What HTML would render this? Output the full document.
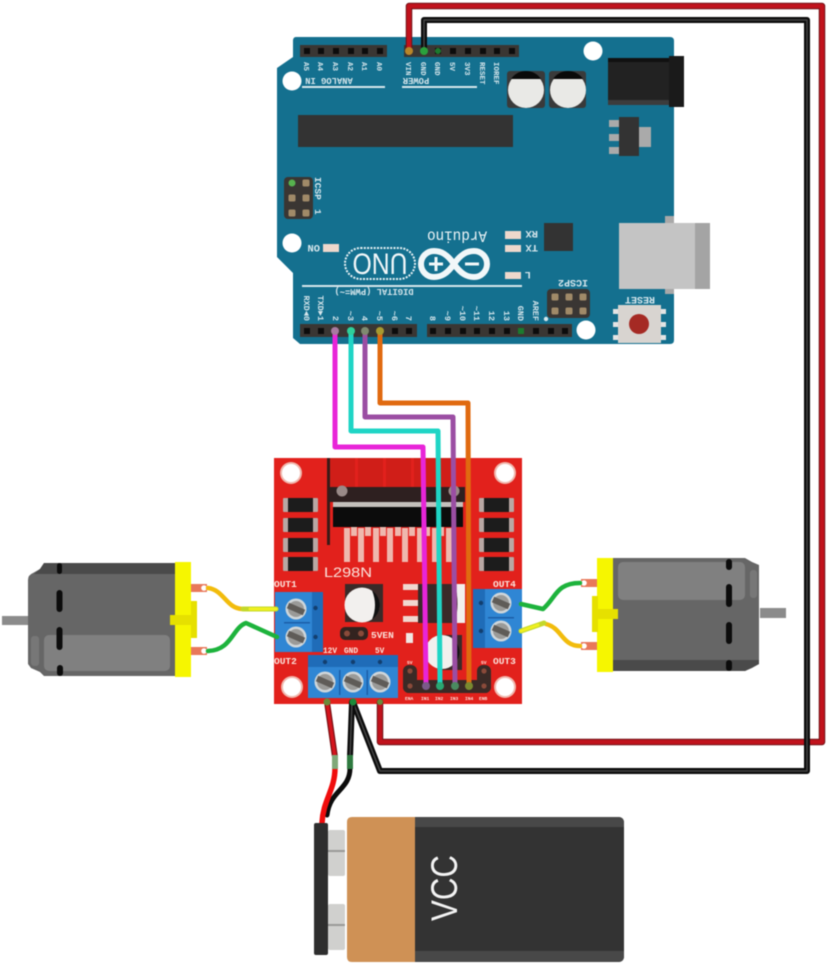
<!DOCTYPE html>
<html><head><meta charset="utf-8"><title>Arduino L298N motor wiring</title>
<style>
html,body{margin:0;padding:0;background:#fff}
svg{display:block;filter:blur(.45px)}
.m{font-family:"Liberation Mono",monospace;fill:#d6e6ec;font-weight:bold}
.w{font-family:"Liberation Mono",monospace;fill:#fbe3dc;font-weight:bold}
.n{fill:none;stroke-linejoin:round;stroke-linecap:round}
</style></head><body>
<svg width="827" height="965" viewBox="0 0 827 965" xmlns="http://www.w3.org/2000/svg">
<defs>
<g id="pin"><rect x="-3" y="-3" width="6" height="6" fill="#0c0c0c"/></g>
<g id="ipin"><rect x="-3.5" y="-3.5" width="7" height="7" rx="1.5" fill="#a08a68"/></g>
<g id="screw"><circle r="10.5" fill="#cfd6da"/><circle r="8" fill="#9a9a98"/><path d="M-8 -3.5L8 3.5" stroke="#5f5c58" stroke-width="6"/></g>
<g id="diode"><rect x="0" y="0" width="35" height="14" fill="#b8a8a4" rx="1"/><rect x="5" y="0" width="25" height="14" fill="#1c1c1c"/></g>
<g id="hole"><circle r="11" fill="#f0b8ae"/><circle r="9" fill="#fff"/></g>
<g id="jp"><circle r="5.5" fill="#3a2a26"/><circle r="2.6" fill="#8a4a3a"/></g>
</defs>
<rect width="827" height="965" fill="#fff"/>

<!-- Arduino board -->
<path d="M296 37H670Q674 37 674 41V340Q674 344 670 344H300L293 338V273L277 257V68L293 57V41Q293 37 296 37Z" fill="#14708f"/>
<circle cx="593" cy="51" r="9.5" fill="#fff"/><circle cx="292" cy="81" r="9.5" fill="#fff"/>
<circle cx="292" cy="243" r="9.5" fill="#fff"/><circle cx="586" cy="330" r="9.5" fill="#fff"/>

<!-- top headers -->
<rect x="300" y="45" width="87" height="12" fill="#3a3633"/>
<rect x="404" y="45" width="115" height="12" fill="#3a3633"/>
<use href="#pin" x="307" y="51"/><use href="#pin" x="321" y="51"/><use href="#pin" x="336" y="51"/><use href="#pin" x="351" y="51"/><use href="#pin" x="365" y="51"/><use href="#pin" x="380" y="51"/>
<use href="#pin" x="438" y="51"/><use href="#pin" x="453" y="51"/><use href="#pin" x="468" y="51"/><use href="#pin" x="483" y="51"/><use href="#pin" x="497" y="51"/><use href="#pin" x="512" y="51"/>
<circle cx="438" cy="51" r="3" fill="#1c7a2e"/>
<g class="m" font-size="7.5">
<text transform="translate(304,62) rotate(90)">A5</text><text transform="translate(318,62) rotate(90)">A4</text><text transform="translate(333,62) rotate(90)">A3</text><text transform="translate(348,62) rotate(90)">A2</text><text transform="translate(362,62) rotate(90)">A1</text><text transform="translate(377,62) rotate(90)">A0</text>
<text transform="translate(406,62) rotate(90)">VIN</text><text transform="translate(421,62) rotate(90)">GND</text><text transform="translate(435,62) rotate(90)">GND</text><text transform="translate(450,62) rotate(90)">5V</text><text transform="translate(465,62) rotate(90)">3V3</text><text transform="translate(480,62) rotate(90)">RESET</text><text transform="translate(494,62) rotate(90)">IOREF</text>
</g>
<text class="m" font-size="8.8" transform="translate(329,78) rotate(180)" text-anchor="middle">ANALOG IN</text>
<text class="m" font-size="8.8" transform="translate(416,78) rotate(180)" text-anchor="middle">POWER</text>
<rect x="302" y="86" width="83" height="2" fill="#d6e6ec"/><rect x="402" y="86" width="75" height="2" fill="#d6e6ec"/>

<!-- caps -->
<rect x="507" y="71" width="38" height="37" rx="3" fill="#3a3a3a"/><rect x="549" y="71" width="37" height="37" rx="3" fill="#3a3a3a"/>
<circle cx="526" cy="90" r="18" fill="#e9e9e6"/><circle cx="568" cy="90" r="18" fill="#e9e9e6"/>
<path d="M511 79A18 18 0 0 1 541 79Z" fill="#0a0a0a"/><path d="M553 79A18 18 0 0 1 583 79Z" fill="#0a0a0a"/>

<!-- chip -->
<rect x="298" y="115" width="215" height="32" fill="#333"/>

<!-- jack -->
<rect x="608" y="58" width="62" height="47" fill="#222"/><rect x="608" y="58" width="62" height="4" fill="#111"/><rect x="608" y="100" width="62" height="5" fill="#3c3c3c"/>
<rect x="669" y="56" width="15" height="51" fill="#1a1a1a"/>

<!-- regulator -->
<rect x="609" y="120" width="11" height="7" fill="#aaa"/><rect x="609" y="134" width="11" height="7" fill="#aaa"/><rect x="609" y="147" width="11" height="7" fill="#aaa"/>
<rect x="638" y="127" width="13" height="20" fill="#aaa"/><rect x="619" y="117" width="20" height="39" fill="#333"/>

<!-- ICSP -->
<rect x="284" y="177" width="29" height="42" rx="4" fill="#3a3633"/>
<use href="#ipin" x="306" y="183"/><use href="#ipin" x="292" y="198"/><use href="#ipin" x="306" y="198"/><use href="#ipin" x="292" y="213"/><use href="#ipin" x="306" y="213"/>
<circle cx="292" cy="183" r="3.5" fill="#57b24e"/>
<text class="m" font-size="9.5" transform="translate(315,177) rotate(90)">ICSP</text>
<text class="m" font-size="9.5" transform="translate(315,209) rotate(90)">1</text>

<!-- LEDs -->
<rect x="505" y="231" width="16" height="8" fill="#eed8cc"/><rect x="505" y="245" width="16" height="7" fill="#eed8cc"/><rect x="505" y="272" width="16" height="7" fill="#eed8cc"/><rect x="323" y="244" width="16" height="8" fill="#eed8cc"/>
<g class="m" font-size="10.5">
<text transform="translate(538,231) rotate(180)">RX</text><text transform="translate(538,245) rotate(180)">TX</text><text transform="translate(531,272) rotate(180)">L</text><text transform="translate(320,245) rotate(180)">ON</text>
</g>
<rect x="544" y="223" width="29" height="28" fill="#333"/>

<!-- UNO & logo -->
<rect x="345" y="248" width="70" height="31" rx="15.5" fill="none" stroke="#e8f2f5" stroke-width="2" stroke-dasharray="2 1.3"/>
<text transform="translate(380,253.500) rotate(180)" text-anchor="middle" font-family="Liberation Sans,sans-serif" font-size="30" fill="#f1f7f9" textLength="55" lengthAdjust="spacingAndGlyphs">UNO</text>
<path d="M454 264C447 254 441 251 434 251A13 13 0 0 0 434 277C441 277 447 274 454 264C461 254 467 251 474 251A13 13 0 0 1 474 277C467 277 461 274 454 264Z" fill="none" stroke="#f1f7f9" stroke-width="6"/>
<rect x="429" y="262.5" width="14" height="3" fill="#f1f7f9"/><rect x="434.500" y="257" width="3" height="14" fill="#f1f7f9"/><rect x="465" y="262.500" width="14" height="3" fill="#f1f7f9"/>
<text transform="translate(457,231.500) rotate(180)" text-anchor="middle" font-family="Liberation Mono,monospace" font-size="15.5" fill="#eef5f7" textLength="60" lengthAdjust="spacingAndGlyphs">Arduino</text>

<!-- USB -->
<rect x="665" y="216" width="9" height="78" fill="#a8a8a8"/>
<rect x="619" y="223" width="76" height="66" fill="#c4c4c4"/><rect x="695" y="223" width="15" height="66" fill="#a4a4a4"/>

<!-- bottom rule / labels -->
<rect x="302" y="285" width="220" height="2" fill="#d6e6ec"/>
<text class="m" font-size="8.800" transform="translate(374,289) rotate(180)" text-anchor="middle">DIGITAL (PWM=~)</text>
<g class="m" font-size="8.500">
<text transform="translate(304,321) rotate(90)" text-anchor="end">RXD◄0</text><text transform="translate(318,321) rotate(90)" text-anchor="end">TXD►1</text>
<text transform="translate(333,321) rotate(90)" text-anchor="end">2</text><text transform="translate(348,321) rotate(90)" text-anchor="end">~3</text><text transform="translate(362,321) rotate(90)" text-anchor="end">4</text><text transform="translate(377,321) rotate(90)" text-anchor="end">~5</text><text transform="translate(392,321) rotate(90)" text-anchor="end">~6</text><text transform="translate(406,321) rotate(90)" text-anchor="end">7</text>
<text transform="translate(430,321) rotate(90)" text-anchor="end">8</text><text transform="translate(445,321) rotate(90)" text-anchor="end">~9</text><text transform="translate(460,321) rotate(90)" text-anchor="end">~10</text><text transform="translate(474,321) rotate(90)" text-anchor="end">~11</text><text transform="translate(489,321) rotate(90)" text-anchor="end">12</text><text transform="translate(504,321) rotate(90)" text-anchor="end">13</text><text transform="translate(518,321) rotate(90)" text-anchor="end">GND</text><text transform="translate(533,321) rotate(90)" text-anchor="end">AREF</text>
</g>

<!-- bottom headers -->
<rect x="300" y="324" width="117" height="13" fill="#3a3633"/><rect x="427" y="324" width="145" height="13" fill="#3a3633"/>
<use href="#pin" x="307" y="331"/><use href="#pin" x="321" y="331"/><use href="#pin" x="395" y="331"/><use href="#pin" x="409" y="331"/>
<use href="#pin" x="433" y="331"/><use href="#pin" x="448" y="331"/><use href="#pin" x="463" y="331"/><use href="#pin" x="477" y="331"/><use href="#pin" x="492" y="331"/><use href="#pin" x="507" y="331"/><use href="#pin" x="536" y="331"/><use href="#pin" x="551" y="331"/><use href="#pin" x="565" y="331"/>
<rect x="518" y="328" width="6" height="6" fill="#1c7a2e"/>

<!-- ICSP2 -->
<rect x="547" y="289" width="43" height="29" rx="4" fill="#3a3633"/>
<use href="#ipin" x="555" y="297"/><use href="#ipin" x="569" y="297"/><use href="#ipin" x="583" y="297"/><use href="#ipin" x="555" y="311"/><use href="#ipin" x="569" y="311"/><use href="#ipin" x="583" y="311"/>
<circle cx="546" cy="319" r="2.2" fill="#d6e6ec"/>
<text class="m" font-size="10" transform="translate(588,280) rotate(180)">ICSP2</text>

<!-- reset -->
<text class="m" font-size="10" transform="translate(655,297) rotate(180)">RESET</text>
<rect x="613" y="309" width="53" height="5" fill="#e4e4e4"/><rect x="613" y="322" width="53" height="5" fill="#e4e4e4"/><rect x="613" y="335" width="53" height="5" fill="#e4e4e4"/>
<rect x="618" y="305" width="43" height="38" fill="#d8d4d0"/><circle cx="639" cy="324" r="10" fill="#a52a24"/>

<!-- L298N board -->
<rect x="274" y="458" width="248" height="246" fill="#e2211c"/>
<use href="#hole" x="291" y="473"/><use href="#hole" x="505" y="473"/><use href="#hole" x="292" y="687"/><use href="#hole" x="505" y="687"/>
<rect x="330" y="458" width="25" height="29" fill="#d01e18"/><rect x="358" y="458" width="25" height="37" fill="#d01e18"/><rect x="386" y="458" width="25" height="29" fill="#d01e18"/><rect x="414" y="458" width="38" height="29" fill="#d01e18"/>
<rect x="327" y="458" width="3" height="87" fill="#3a1a18"/>
<rect x="329" y="487" width="136" height="15" fill="#2e2020"/>
<circle cx="342" cy="491" r="5.5" fill="#9a8a88"/><circle cx="454" cy="491" r="5.5" fill="#9a8a88"/>
<rect x="333" y="502" width="130" height="5" fill="#c4c0bc"/><rect x="333" y="507" width="130" height="20" fill="#0c0c0c"/>
<g fill="#eeb8ae">
<rect x="344" y="528" width="6" height="34"/><rect x="358" y="528" width="6" height="34"/><rect x="373" y="528" width="6" height="34"/><rect x="387" y="528" width="6" height="34"/><rect x="402" y="528" width="6" height="34"/><rect x="417" y="528" width="6" height="34"/><rect x="432" y="528" width="6" height="34"/><rect x="446" y="528" width="6" height="34"/>
<rect x="351" y="527" width="6" height="9"/><rect x="365" y="527" width="6" height="9"/><rect x="380" y="527" width="6" height="9"/><rect x="395" y="527" width="6" height="9"/><rect x="409" y="527" width="6" height="9"/><rect x="424" y="527" width="6" height="9"/><rect x="438" y="527" width="6" height="9"/>
</g>
<use href="#diode" x="283" y="498"/><use href="#diode" x="283" y="518"/><use href="#diode" x="283" y="538"/><use href="#diode" x="283" y="557"/>
<use href="#diode" x="479" y="498"/><use href="#diode" x="479" y="518"/><use href="#diode" x="479" y="538"/><use href="#diode" x="479" y="557"/>
<text x="324" y="577" font-family="Liberation Sans,sans-serif" font-size="14" fill="#fbe3dc" textLength="48" lengthAdjust="spacingAndGlyphs">L298N</text>

<g class="w" font-size="9.500">
<text x="274" y="587">OUT1</text><text x="493" y="587">OUT4</text><text x="274" y="664">OUT2</text><text x="493" y="664">OUT3</text>
<text x="371" y="638">5VEN</text>
</g>
<g class="w" font-size="7.800"><text x="323" y="653">12V</text><text x="344" y="653">GND</text><text x="375" y="653">5V</text></g>

<!-- big cap -->
<rect x="345" y="584" width="38" height="38" fill="#3a2a28"/>
<circle cx="362" cy="605" r="17.500" fill="#f2f0ee"/><path d="M372 590.500A17.500 17.500 0 0 1 372 619.500Q378 605 372 590.500Z" fill="#111"/>

<!-- resistors & mid parts -->
<rect x="403" y="584" width="15" height="6" fill="#f0d8d0"/><rect x="403" y="600" width="15" height="6" fill="#f0d8d0"/><rect x="403" y="616" width="15" height="6" fill="#f0d8d0"/><rect x="406" y="633" width="7" height="10" fill="#f0e8e4"/>
<rect x="418" y="584" width="47" height="39" fill="#3a2a28"/><path d="M455 584H465V623H455Q460 604 455 584Z" fill="#f2f0ee"/>
<rect x="442" y="635" width="20" height="35" fill="#3a2a28"/><circle cx="442" cy="652" r="17" fill="#f2f0ee"/><path d="M452 638A17 17 0 0 1 452 666Q458 652 452 638Z" fill="#111"/>

<!-- SVEN jumper -->
<rect x="340" y="627" width="28" height="13" rx="5" fill="#33231f"/><circle cx="347" cy="633.500" r="3" fill="#8a4a3a"/><circle cx="361" cy="633.500" r="3" fill="#8a4a3a"/>

<!-- logic headers -->
<rect x="403" y="665" width="14" height="28" rx="6" fill="#3a2a26"/><rect x="403" y="680" width="88" height="13" rx="6" fill="#3a2a26"/><rect x="477" y="665" width="14" height="28" rx="6" fill="#3a2a26"/>
<use href="#jp" x="410" y="671"/><use href="#jp" x="410" y="686"/><use href="#jp" x="484" y="671"/><use href="#jp" x="484" y="686"/>
<g class="w" font-size="4.600">
<text x="405" y="700">ENA</text><text x="421" y="700">IN1</text><text x="435" y="700">IN2</text><text x="450" y="700">IN3</text><text x="465" y="700">IN4</text><text x="479" y="700">ENB</text>
<text x="407" y="664">5V</text><text x="481" y="664">5V</text>
</g>

<!-- terminals -->
<rect x="275" y="592" width="37" height="60" fill="#2f86d4"/><rect x="312" y="592" width="11" height="60" fill="#1f6cb8"/>
<rect x="284" y="622" width="26" height="1.500" fill="#1c5fa8"/>
<circle cx="315.500" cy="608" r="2.200" fill="#123f70"/><circle cx="315.500" cy="637" r="2.200" fill="#123f70"/>
<use href="#screw" x="296" y="609"/><use href="#screw" x="296" y="637"/>
<rect x="473" y="589" width="12" height="59" fill="#1f6cb8"/><rect x="485" y="589" width="37" height="59" fill="#2f86d4"/>
<rect x="488" y="617" width="26" height="1.500" fill="#1c5fa8"/>
<circle cx="481" cy="603" r="2.200" fill="#123f70"/><circle cx="481" cy="631" r="2.200" fill="#123f70"/>
<use href="#screw" x="501" y="603"/><use href="#screw" x="501" y="631"/>
<rect x="308" y="667" width="90" height="31" fill="#2f86d4"/><rect x="308" y="655" width="90" height="12" fill="#1f6cb8"/>
<circle cx="325" cy="662" r="2.200" fill="#123f70"/><circle cx="353" cy="662" r="2.200" fill="#123f70"/><circle cx="380" cy="662" r="2.200" fill="#123f70"/>
<rect x="339" y="670" width="1.500" height="25" fill="#1c5fa8"/><rect x="366.500" y="670" width="1.500" height="25" fill="#1c5fa8"/>
<use href="#screw" x="325" y="682"/><use href="#screw" x="353" y="682"/><use href="#screw" x="380" y="682"/>

<!-- signal wires -->
<g class="n" stroke-width="5">
<path d="M335 333V447H423L426 686" stroke="#e825d8"/>
<path d="M351 333V431H438L440 686" stroke="#1fd5c5"/>
<path d="M365 333V417H453L455 686" stroke="#9b4ea3"/>
<path d="M380 333V403H468L469 686" stroke="#e06a10"/>
</g>
<circle cx="335" cy="331" r="4" fill="#a87aa0"/><circle cx="351" cy="331" r="4" fill="#2fd09a"/><circle cx="365" cy="331" r="4" fill="#7f8a70"/><circle cx="380" cy="331" r="4" fill="#a89a30"/>
<circle cx="426" cy="686" r="4" fill="#7a5a88"/><circle cx="440" cy="686" r="4" fill="#2aa872"/><circle cx="455" cy="686" r="4" fill="#4a8a60"/><circle cx="469" cy="686" r="4" fill="#7a8a30"/>

<!-- power wires -->
<g class="n">
<path d="M409 50V6H822V742H380V702" stroke="#6e1015" stroke-width="6.500"/>
<path d="M409 50V6H822V742H380V702" stroke="#c1121c" stroke-width="4.500"/>
<path d="M424 50V20H807V771H380L353 702" stroke="#0c0c0c" stroke-width="6"/>
<path d="M424 50V20H807V771H380L353 702" stroke="#444" stroke-width="1.500"/>
</g>
<circle cx="409" cy="51" r="4" fill="#b8862a"/><circle cx="424" cy="51" r="4" fill="#2aa13c"/>

<!-- battery leads -->
<g class="n">
<path d="M327 702L335 757" stroke="#7a1014" stroke-width="6"/><path d="M327 702L335 757" stroke="#d5141c" stroke-width="3.500"/>
<path d="M352 702L350 757" stroke="#0c0c0c" stroke-width="6"/><path d="M352 702L350 757" stroke="#444" stroke-width="1.500"/>
<path d="M350 768C350 790 330 790 327 815" stroke="#0c0c0c" stroke-width="5"/>
<path d="M335 768C335 790 323 800 322 823" stroke="#f00d0d" stroke-width="5.500"/>
</g>
<rect x="332" y="755" width="6" height="14" fill="#7fa878"/><rect x="347" y="755" width="6" height="14" fill="#2f7a40"/>
<circle cx="327" cy="702" r="3.500" fill="#6a8a3a"/><circle cx="353" cy="702" r="3.500" fill="#1c8a3a"/><circle cx="380" cy="702" r="3" fill="#6a8a3a"/>

<!-- battery -->
<rect x="328" y="830" width="17" height="46" rx="2" fill="#d0d0ce"/><rect x="328" y="904" width="17" height="46" rx="2" fill="#d0d0ce"/>
<rect x="328" y="850" width="17" height="2" fill="#9a9a98"/><rect x="328" y="924" width="17" height="2" fill="#9a9a98"/>
<rect x="314" y="823" width="14" height="132" rx="2" fill="#2e2e2e"/>
<path d="M352 817H415V962H352Q347 962 347 957V822Q347 817 352 817Z" fill="#cf9155"/>
<path d="M415 817H618Q624 817 624 823V956Q624 962 618 962H415Z" fill="#333"/>
<path d="M415 817H618Q624 817 624 823V827H415Z" fill="#484848"/><path d="M415 951H624V956Q624 962 618 962H415Z" fill="#484848"/>
<text transform="translate(457,921) rotate(-90)" font-family="Liberation Sans,sans-serif" font-size="37" fill="#f4f4f4" textLength="66" lengthAdjust="spacingAndGlyphs">VCC</text>

<!-- left motor -->
<path d="M44 563H175V676H44L40 672L31 668L28 664V580Q28 575 33 573L40 569Z" fill="#666"/>
<path d="M44 563H175V574H34L40 569Z" fill="#4a4a4a"/>
<rect x="44" y="635" width="126" height="36" rx="5" fill="#808080"/>
<rect x="31" y="636" width="8" height="30" rx="3" fill="#777"/>
<rect x="57" y="563" width="5" height="11" rx="2.500" fill="#0c0c0c"/><rect x="56.500" y="590" width="6" height="22" rx="3" fill="#0c0c0c"/><rect x="56.500" y="627" width="6" height="23" rx="3" fill="#0c0c0c"/><rect x="57" y="665" width="6" height="11" rx="3" fill="#0c0c0c"/>
<rect x="2" y="616" width="26" height="9" fill="#8b8b8b"/>
<rect x="175" y="562" width="16" height="115" fill="#f6f600"/>
<rect x="170" y="615" width="24" height="10" fill="#e6e000"/><rect x="191" y="601" width="6" height="37" fill="#e6e000"/>
<rect x="191" y="584" width="16" height="8" fill="#e8785a"/><rect x="191" y="647" width="16" height="8" fill="#e8785a"/>
<circle cx="204" cy="588" r="2.800" fill="#fff"/><circle cx="204" cy="651" r="2.800" fill="#fff"/>
<g class="n" stroke-width="4.500">
<path d="M208 588C224 590 226 608 242 609" stroke="#f2bc0c"/>
<path d="M243 609H276" stroke="#c4d82a" stroke-width="5"/><path d="M250 609H276" stroke="#f0f020" stroke-width="3"/>
<path d="M208 651C232 650 232 628 246 623L277 637" stroke="#1db33c"/>
</g>

<!-- right motor -->
<path d="M613 558H745L752 562L759 565V664L752 668L745 671H613Z" fill="#666"/>
<rect x="618" y="562" width="127" height="38" rx="5" fill="#808080"/>
<rect x="750" y="570" width="7" height="28" rx="3" fill="#777"/>
<path d="M613 660H759V664L745 671H613Z" fill="#4a4a4a"/>
<rect x="726" y="559" width="6" height="11" rx="3" fill="#0c0c0c"/><rect x="726" y="584" width="6" height="23" rx="3" fill="#0c0c0c"/><rect x="726" y="622" width="6" height="22" rx="3" fill="#0c0c0c"/><rect x="726" y="660" width="6" height="11" rx="3" fill="#0c0c0c"/>
<rect x="760" y="608" width="26" height="10" fill="#8b8b8b"/>
<rect x="597" y="558" width="16" height="114" fill="#f6f600"/>
<rect x="596" y="609" width="22" height="10" fill="#e6e000"/><rect x="592" y="596" width="6" height="36" fill="#e6e000"/>
<rect x="581" y="579" width="16" height="8" fill="#e8785a"/><rect x="581" y="642" width="16" height="8" fill="#e8785a"/>
<circle cx="584" cy="583" r="2.800" fill="#fff"/><circle cx="584" cy="646" r="2.800" fill="#fff"/>
<g class="n" stroke-width="4.500">
<path d="M580 583C556 583 556 598 543 609L521 604" stroke="#1db33c"/>
<path d="M580 646C562 646 562 628 546 624" stroke="#f2bc0c"/>
<path d="M544 623L521 631" stroke="#c4d82a" stroke-width="5"/><path d="M538 625L521 631" stroke="#f0f020" stroke-width="3"/>
</g>
</svg>
</body></html>
